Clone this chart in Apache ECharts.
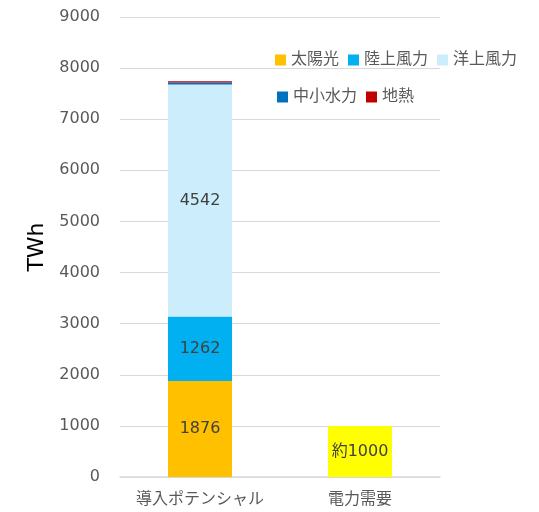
<!DOCTYPE html>
<html>
<head>
<meta charset="utf-8">
<script src="https://cdn.jsdelivr.net/npm/echarts@6/dist/echarts.min.js"></script>
<style>
  html, body { margin: 0; padding: 0; background: #fff; }
  #chart { width: 539px; height: 512px; }
</style>
</head>
<body>
<div id="chart"></div>
<script>
(function() {
    var categories = ['導入ポテンシャル', '電力需要'];
    // 導入ポテンシャル (TWh)
    var solar = [1876, '-'];
    var windOnshore = [1262, '-'];
    var windOffshore = [4542, '-'];
    var smallHydro = [40, '-'];
    var geothermal = [25, '-'];
    // 電力需要
    var demand = ['-', 1000];
    var yTicks = [0, 9000, 1000];

    var font = "'DejaVu Sans', 'Noto Sans CJK JP', sans-serif";
    var myChart = echarts.init(document.getElementById('chart'));

    function bar(name, data, color, showLabel) {
        return {
            name: name,
            type: 'bar',
            stack: 'total',
            barWidth: '40%',
            data: data,
            itemStyle: { color: color },
            label: {
                show: showLabel,
                position: 'inside',
                color: '#404040',
                fontSize: 16,
                fontFamily: font
            }
        };
    }

    var legendText = { color: '#595959', fontSize: 16, fontFamily: font };

    var option = {
        animation: false,
        textStyle: { fontFamily: font },
        grid: { left: 120, right: 99, top: 17, bottom: 35 },
        legend: [{
            left: 270, top: 47,
            icon: 'rect', itemWidth: 11, itemHeight: 11, itemGap: 9,
            textStyle: legendText,
            data: ['太陽光', '陸上風力', '洋上風力']
        }, {
            left: 272, top: 84,
            icon: 'rect', itemWidth: 11, itemHeight: 11, itemGap: 9,
            textStyle: legendText,
            data: ['中小水力', '地熱']
        }],
        xAxis: {
            type: 'category',
            data: categories,
            axisLine: { lineStyle: { color: '#d9d9d9', width: 1.5 } },
            axisTick: { show: false },
            axisLabel: { color: '#595959', fontSize: 16, margin: 15, interval: 0, fontFamily: font }
        },
        yAxis: {
            type: 'value',
            min: yTicks[0],
            max: yTicks[1],
            interval: yTicks[2],
            name: 'TWh',
            nameLocation: 'middle',
            nameGap: 70,
            nameTextStyle: { color: '#000', fontSize: 22, fontFamily: font },
            axisLabel: {
                color: '#595959', fontSize: 16, margin: 20, fontFamily: font,
                formatter: function(v) { return String(v); }
            },
            splitLine: { lineStyle: { color: '#d9d9d9' } }
        },
        series: [
            bar('太陽光', solar, '#FFC000', true),
            bar('陸上風力', windOnshore, '#00B0F0', true),
            bar('洋上風力', windOffshore, '#CCEEFC', true),
            bar('中小水力', smallHydro, '#0070C0', false),
            bar('地熱', geothermal, '#C00000', false),
            (function() {
                var s = bar('電力需要', demand, '#FFFF00', true);
                s.label.formatter = '約{c}';
                return s;
            })()
        ]
    };
    myChart.setOption(option);
})();
</script>
</body>
</html>
